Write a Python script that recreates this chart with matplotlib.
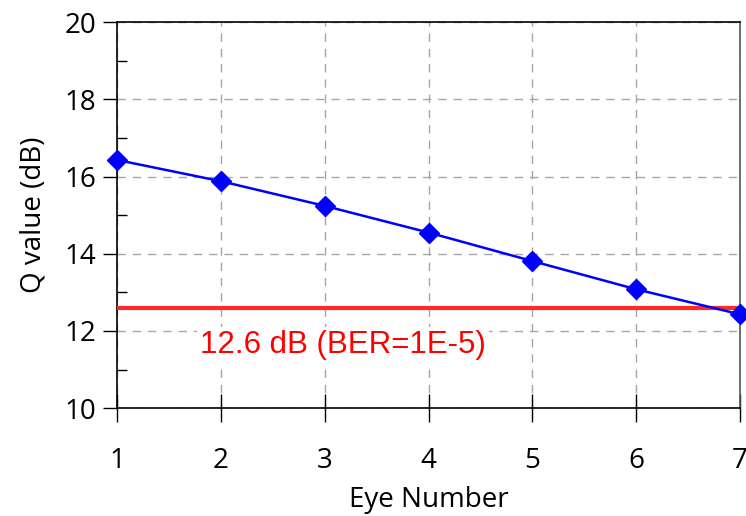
import matplotlib
matplotlib.use("Agg")
import matplotlib.pyplot as plt
from matplotlib.ticker import MultipleLocator

# Data
eye_number = [1, 2, 3, 4, 5, 6, 7]
q_value_db = [16.43, 15.88, 15.24, 14.55, 13.81, 13.08, 12.43]
ber_limit_db = 12.6
ber_label = "12.6 dB (BER=1E-5)"

plt.rcParams['font.family'] = ['Open Sans', 'DejaVu Sans']

fig = plt.figure(figsize=(7.46, 5.16), dpi=100)
ax = fig.add_axes([0.157, 0.209, 0.835, 0.748])

# Grid
ax.grid(True, which="major", color="#a6a6a6", linestyle=(0, (6, 5)), linewidth=1.0)
ax.set_axisbelow(True)

# Threshold line and label
ax.plot([eye_number[0], eye_number[-1]], [ber_limit_db, ber_limit_db],
        color="#ff2a2a", linewidth=3, zorder=3)
ax.text(1.8, 11.63, ber_label, color="#ff0000", fontsize=22.5,
        family=["Liberation Sans", "DejaVu Sans"], va="center", ha="left",
        bbox=dict(facecolor="white", edgecolor="none", pad=2), zorder=2)

# Q value curve
ax.plot(eye_number, q_value_db, color="#0000ff", linewidth=1.8,
        marker="D", markersize=10, zorder=4, clip_on=False)

ax.set_xlim(1, 7)
ax.set_ylim(10, 20)
ax.set_xticks(eye_number)
ax.yaxis.set_major_locator(MultipleLocator(2))
ax.yaxis.set_minor_locator(MultipleLocator(1))

ax.tick_params(axis="y", which="major", direction="out", length=10, width=1,
               labelsize=20, pad=5)
ax.tick_params(axis="y", which="minor", direction="in", length=7, width=1)
ax.tick_params(axis="x", which="major", direction="inout", length=20, width=1,
               labelsize=20, pad=18)

for side in ["left", "bottom", "top"]:
    ax.spines[side].set_color("black")
    ax.spines[side].set_linewidth(1.2)
ax.spines["right"].set_color("#555555")
ax.spines["right"].set_linewidth(1.2)

ax.set_xlabel("Eye Number", fontsize=20, labelpad=8)
ax.set_ylabel("Q value (dB)", fontsize=20, labelpad=12)

fig.savefig("out.png", dpi=100)
